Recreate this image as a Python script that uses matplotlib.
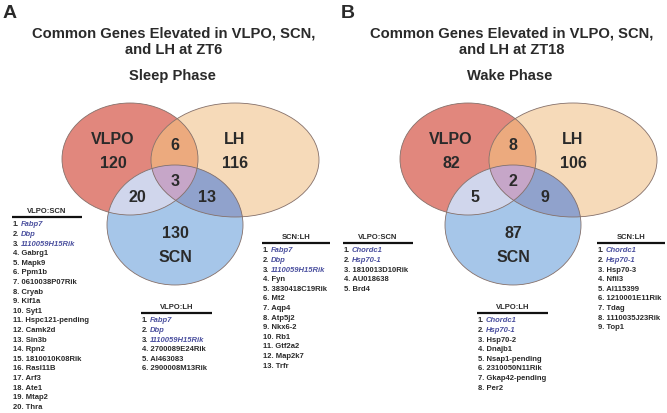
import numpy as np
import matplotlib
matplotlib.use("Agg")
import matplotlib.pyplot as plt
from matplotlib.patches import Ellipse, Polygon

plt.rcParams['font.family'] = ['Liberation Sans', 'DejaVu Sans']

# ---- data ----
panel_letters = ["A", "B"]
titles = ["Common Genes Elevated in VLPO, SCN,\nand LH at ZT6",
          "Common Genes Elevated in VLPO, SCN,\nand LH at ZT18"]
phases = ["Sleep Phase", "Wake Phase"]

# counts: VLPO only, LH only, SCN only, VLPO&LH, VLPO&SCN, LH&SCN, all three
counts_zt6 = [120, 116, 130, 6, 20, 13, 3]
counts_zt18 = [82, 106, 87, 8, 5, 9, 2]

zt6_vlpo_scn = ["Fabp7", "Dbp", "1110059H15Rik", "Gabrg1", "Mapk9", "Ppm1b",
                "0610038P07Rik", "Cryab", "Kif1a", "Syt1", "Hspc121-pending",
                "Camk2d", "Sin3b", "Rpn2", "1810010K08Rik", "Rasl11B", "Arf3",
                "Ate1", "Mtap2", "Thra"]
zt6_vlpo_lh = ["Fabp7", "Dbp", "1110059H15Rik", "2700089E24Rik", "AI463083",
               "2900008M13Rik"]
zt6_scn_lh = ["Fabp7", "Dbp", "1110059H15Rik", "Fyn", "3830418C19Rik", "Mt2",
              "Aqp4", "Atp5j2", "Nkx6-2", "Rb1", "Gtf2a2", "Map2k7", "Trfr"]
zt6_common = 3  # first n genes are shared by all three lists (blue italic)

zt18_vlpo_scn = ["Chordc1", "Hsp70-1", "1810013D10Rik", "AU018638", "Brd4"]
zt18_vlpo_lh = ["Chordc1", "Hsp70-1", "Hsp70-2", "Dnajb1", "Nsap1-pending",
                "2310050N11Rik", "Gkap42-pending", "Per2"]
zt18_scn_lh = ["Chordc1", "Hsp70-1", "Hsp70-3", "Nfil3", "AI115399",
               "1210001E11Rik", "Tdag", "1110035J23Rik", "Top1"]
zt18_common = 2

# ---- styles ----
TXT = "#2a2a2a"
BLUE = "#4a4f9e"
C_VLPO, C_LH, C_SCN = "#e1877d", "#f6dab9", "#a6c6e9"
C_VL, C_VS, C_LS, C_ALL = "#ecaa7e", "#d0d6ec", "#90a2cc", "#c6a6c8"
FS = 5.5


def ell_pts(c, r, n=900):
    t = np.linspace(0, 2 * np.pi, n, endpoint=False)
    return np.column_stack([c[0] + r[0] * np.cos(t), c[1] + r[1] * np.sin(t)])


def inside(p, c, r):
    return ((p[:, 0] - c[0]) / r[0]) ** 2 + ((p[:, 1] - c[1]) / r[1]) ** 2 <= 1.0


def intersect(ells):
    pts = []
    for i, (c, r) in enumerate(ells):
        p = ell_pts(c, r)
        m = np.ones(len(p), bool)
        for j, (c2, r2) in enumerate(ells):
            if j != i:
                m &= inside(p, c2, r2)
        pts.append(p[m])
    pts = np.vstack(pts)
    ctr = pts.mean(axis=0)
    ang = np.arctan2(pts[:, 1] - ctr[1], pts[:, 0] - ctr[0])
    return pts[np.argsort(ang)]


def venn(ax, x0, counts):
    v = ((x0 + 130, 159), (68, 56))
    l = ((x0 + 235, 160), (84, 57))
    s = ((x0 + 175, 225), (68, 60))
    for (c, r), col in [(v, C_VLPO), (l, C_LH), (s, C_SCN)]:
        ax.add_patch(Ellipse(c, 2 * r[0], 2 * r[1], fc=col, ec="none"))
    for pair, col in [((v, l), C_VL), ((v, s), C_VS), ((l, s), C_LS), ((v, l, s), C_ALL)]:
        ax.add_patch(Polygon(intersect(pair), closed=True, fc=col, ec="none"))
    for c, r in (v, l, s):
        ax.add_patch(Ellipse(c, 2 * r[0], 2 * r[1], fc="none", ec="#85706a", lw=0.6))

    kw = dict(ha="center", va="center", fontsize=11.5, fontweight="bold", color=TXT)
    ax.text(x0 + 113, 139, "VLPO", **kw)
    ax.text(x0 + 113, 163, str(counts[0]), **kw)
    ax.text(x0 + 235, 139, "LH", **kw)
    ax.text(x0 + 235, 163, str(counts[1]), **kw)
    ax.text(x0 + 175, 233, str(counts[2]), **kw)
    ax.text(x0 + 175, 257, "SCN", **kw)
    ax.text(x0 + 175, 145, str(counts[3]), **kw)
    ax.text(x0 + 137, 197, str(counts[4]), **kw)
    ax.text(x0 + 207, 197, str(counts[5]), **kw)
    ax.text(x0 + 175, 182, str(counts[6]), **kw)


def gene_list(ax, xl, xr, y, header, genes, n_common):
    ax.text((xl + xr) / 2, y, header, ha="center", va="bottom", fontsize=FS,
            fontweight="bold", color=TXT)
    ax.plot([xl, xr], [y + 1.5, y + 1.5], color="#111111", lw=1.6, solid_capstyle="butt")
    for i, g in enumerate(genes):
        yy = y + 10 + i * 9.6
        if i < n_common:
            ax.text(xl + 1, yy, f"{i + 1}.", ha="left", va="center", fontsize=FS,
                    fontweight="bold", color=TXT)
            ax.text(xl + 8.5, yy, g, ha="left", va="center", fontsize=FS,
                    fontweight="bold", style="italic", color=BLUE)
        else:
            ax.text(xl + 1, yy, f"{i + 1}. {g}", ha="left", va="center", fontsize=FS,
                    fontweight="bold", color=TXT)


fig = plt.figure(figsize=(6.67, 4.13), dpi=100)
ax = fig.add_axes([0, 0, 1, 1])
ax.set_xlim(0, 667)
ax.set_ylim(413, 0)
ax.axis("off")

for k, x0 in enumerate([0, 338]):
    ax.text(x0 + 3, 14, panel_letters[k], ha="left", va="center", fontsize=14,
            fontweight="bold", color=TXT)
    ax.text(x0 + 174, 42, titles[k], ha="center", va="center", fontsize=10.6,
            fontweight="bold", color=TXT, linespacing=1.2)
    ax.text(x0 + 172, 76, phases[k], ha="center", va="center", fontsize=10.6,
            fontweight="bold", color=TXT)

venn(ax, 0, counts_zt6)
venn(ax, 338, counts_zt18)

gene_list(ax, 12, 82, 215, "VLPO:SCN", zt6_vlpo_scn, zt6_common)
gene_list(ax, 141, 212, 311, "VLPO:LH", zt6_vlpo_lh, zt6_common)
gene_list(ax, 262, 330, 241, "SCN:LH", zt6_scn_lh, zt6_common)

gene_list(ax, 343, 413, 241, "VLPO:SCN", zt18_vlpo_scn, zt18_common)
gene_list(ax, 477, 548, 311, "VLPO:LH", zt18_vlpo_lh, zt18_common)
gene_list(ax, 597, 665, 241, "SCN:LH", zt18_scn_lh, zt18_common)

fig.savefig("out.png", dpi=100)
